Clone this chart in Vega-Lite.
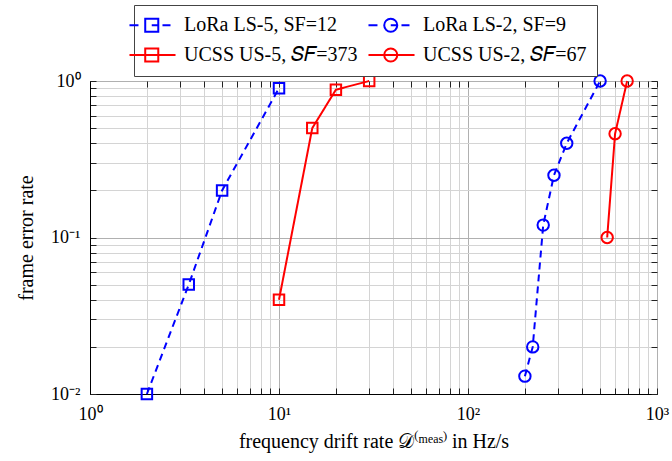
{
  "$schema": "https://vega.github.io/schema/vega-lite/v6.json",
  "width": 567,
  "height": 313,
  "autosize": {"type": "none"},
  "padding": {"left": 90, "top": 81, "right": 15, "bottom": 67},
  "background": "white",
  "config": {
    "view": {"stroke": "black", "strokeWidth": 1},
    "font": "Liberation Serif",
    "axis": {"labelFont": "Liberation Serif", "titleFont": "Liberation Serif", "labelFontSize": 18, "titleFontSize": 20, "labelColor": "black", "titleColor": "black", "titleFontWeight": "normal", "domainColor": "black", "tickColor": "#222"},
    "legend": {"labelFont": "Liberation Serif", "labelFontSize": 20, "labelColor": "black", "labelLimit": 400}
  },
  "data": {
    "values": [
      {"series": "LoRa LS-5, SF=12", "x": 2, "y": 0.01},
      {"series": "LoRa LS-5, SF=12", "x": 3.33, "y": 0.05},
      {"series": "LoRa LS-5, SF=12", "x": 5, "y": 0.2},
      {"series": "LoRa LS-5, SF=12", "x": 10, "y": 0.9},
      {"series": "UCSS US-5, 𝑆𝐹=373", "x": 10, "y": 0.04},
      {"series": "UCSS US-5, 𝑆𝐹=373", "x": 15, "y": 0.5},
      {"series": "UCSS US-5, 𝑆𝐹=373", "x": 20, "y": 0.88},
      {"series": "UCSS US-5, 𝑆𝐹=373", "x": 30, "y": 1.0},
      {"series": "LoRa LS-2, SF=9", "x": 200, "y": 0.013},
      {"series": "LoRa LS-2, SF=9", "x": 220, "y": 0.02},
      {"series": "LoRa LS-2, SF=9", "x": 250, "y": 0.12},
      {"series": "LoRa LS-2, SF=9", "x": 285, "y": 0.25},
      {"series": "LoRa LS-2, SF=9", "x": 333, "y": 0.4},
      {"series": "LoRa LS-2, SF=9", "x": 500, "y": 1.0},
      {"series": "UCSS US-2, 𝑆𝐹=67", "x": 545, "y": 0.1},
      {"series": "UCSS US-2, 𝑆𝐹=67", "x": 600, "y": 0.46},
      {"series": "UCSS US-2, 𝑆𝐹=67", "x": 695, "y": 1.0}
    ]
  },
  "resolve": {"axis": {"x": "independent", "y": "independent"}},
  "layer": [
    {
      "mark": {"type": "line", "strokeWidth": 2},
      "encoding": {
        "x": {"field": "x", "type": "quantitative",
          "scale": {"type": "log", "domain": [1, 1000], "nice": false},
          "axis": {"title": "frequency drift rate 𝒟⁽ᵐᵉᵃˢ⁾ in Hz/s",
            "values": [1,2,3,4,5,6,7,8,9,10,20,30,40,50,60,70,80,90,100,200,300,400,500,600,700,800,900,1000],
            "labelExpr": "datum.value == 1 ? '10⁰' : datum.value == 10 ? '10¹' : datum.value == 100 ? '10²' : datum.value == 1000 ? '10³' : ''",
            "labelOverlap": false, "labelFlush": false, "tickSize": -6, "labelPadding": 17, "titlePadding": 8,
            "grid": true,
            "gridColor": {"condition": {"test": "datum.value == 1 || datum.value == 10 || datum.value == 100 || datum.value == 1000", "value": "#b0b0b0"}, "value": "#d4d4d4"}}},
        "y": {"field": "y", "type": "quantitative",
          "scale": {"type": "log", "domain": [0.01, 1], "nice": false},
          "axis": {"title": "frame error rate",
            "values": [0.01,0.02,0.03,0.04,0.05,0.06,0.07,0.08,0.09,0.1,0.2,0.3,0.4,0.5,0.6,0.7,0.8,0.9,1],
            "labelExpr": "datum.value == 0.01 ? '10⁻²' : datum.value == 0.1 ? '10⁻¹' : datum.value == 1 ? '10⁰' : ''",
            "labelOverlap": false, "labelFlush": false, "tickSize": -6, "labelPadding": 16, "titlePadding": 14,
            "grid": true,
            "gridColor": {"condition": {"test": "datum.value == 0.01 || datum.value == 0.1 || datum.value == 1", "value": "#b0b0b0"}, "value": "#d4d4d4"}}},
        "stroke": {"field": "series", "type": "nominal", "legend": null,
          "scale": {"range": ["#0000ff", "#0000ff", "#ff0000", "#ff0000"]}},
        "strokeDash": {"field": "series", "type": "nominal", "legend": null,
          "scale": {"range": [[7, 5], [7, 5], [1, 0], [1, 0]]}}
      }
    },
    {
      "transform": [{"filter": "test(/-5,/, datum.series)"}],
      "mark": {"type": "point", "shape": "square", "filled": false, "size": 110, "strokeWidth": 2, "opacity": 1},
      "encoding": {
        "x": {"field": "x", "type": "quantitative", "axis": null},
        "y": {"field": "y", "type": "quantitative", "axis": null},
        "stroke": {"field": "series", "type": "nominal", "legend": null}
      }
    },
    {
      "transform": [{"filter": "test(/-2,/, datum.series)"}],
      "mark": {"type": "point", "shape": "circle", "filled": false, "size": 130, "strokeWidth": 2, "opacity": 1},
      "encoding": {
        "x": {"field": "x", "type": "quantitative", "axis": null},
        "y": {"field": "y", "type": "quantitative", "axis": null},
        "stroke": {"field": "series", "type": "nominal", "legend": null}
      }
    },
    {
      "mark": {"type": "point", "filled": false, "strokeWidth": 2, "opacity": 0},
      "encoding": {
        "x": {"field": "x", "type": "quantitative",
          "axis": {"orient": "top", "title": null, "labels": false, "grid": false, "domain": false, "tickSize": -6,
            "values": [1,2,3,4,5,6,7,8,9,10,20,30,40,50,60,70,80,90,100,200,300,400,500,600,700,800,900,1000]}},
        "y": {"field": "y", "type": "quantitative",
          "axis": {"orient": "right", "title": null, "labels": false, "grid": false, "domain": false, "tickSize": -6,
            "values": [0.01,0.02,0.03,0.04,0.05,0.06,0.07,0.08,0.09,0.1,0.2,0.3,0.4,0.5,0.6,0.7,0.8,0.9,1]}},
        "color": {"field": "series", "type": "nominal",
          "scale": {"domain": ["LoRa LS-5, SF=12", "LoRa LS-2, SF=9", "UCSS US-5, 𝑆𝐹=373", "UCSS US-2, 𝑆𝐹=67"], "range": ["#0000ff", "#0000ff", "#ff0000", "#ff0000"]},
          "legend": {"title": null, "orient": "none", "legendX": 44, "legendY": -76, "direction": "horizontal", "columns": 2,
            "symbolSize": 225, "symbolStrokeWidth": 2, "symbolOpacity": 1, "labelOffset": 20, "columnPadding": 6, "rowPadding": 8,
            "padding": 10, "strokeColor": "#444", "fillColor": "white", "labelFontSize": 20, "labelLimit": 400}},
        "shape": {"field": "series", "type": "nominal",
          "scale": {"domain": ["LoRa LS-5, SF=12", "LoRa LS-2, SF=9", "UCSS US-5, 𝑆𝐹=373", "UCSS US-2, 𝑆𝐹=67"],
            "range": [
              "M-3.27,0H-2.07M1.13,0H2.2M-0.3,0H0.57M-1.17,-0.87H0.57V0.87H-1.17Z",
              "M-3.27,0H-2.07M1.13,0H2.2M-0.3,0H0.57M0.57,0A0.87,0.87 0 1,1 -1.17,0A0.87,0.87 0 1,1 0.57,0Z",
              "M-3.27,0H2.87M-1.17,-0.87H0.57V0.87H-1.17Z",
              "M-3.27,0H2.87M0.57,0A0.87,0.87 0 1,1 -1.17,0A0.87,0.87 0 1,1 0.57,0Z"
            ]}}
      }
    }
  ]
}
